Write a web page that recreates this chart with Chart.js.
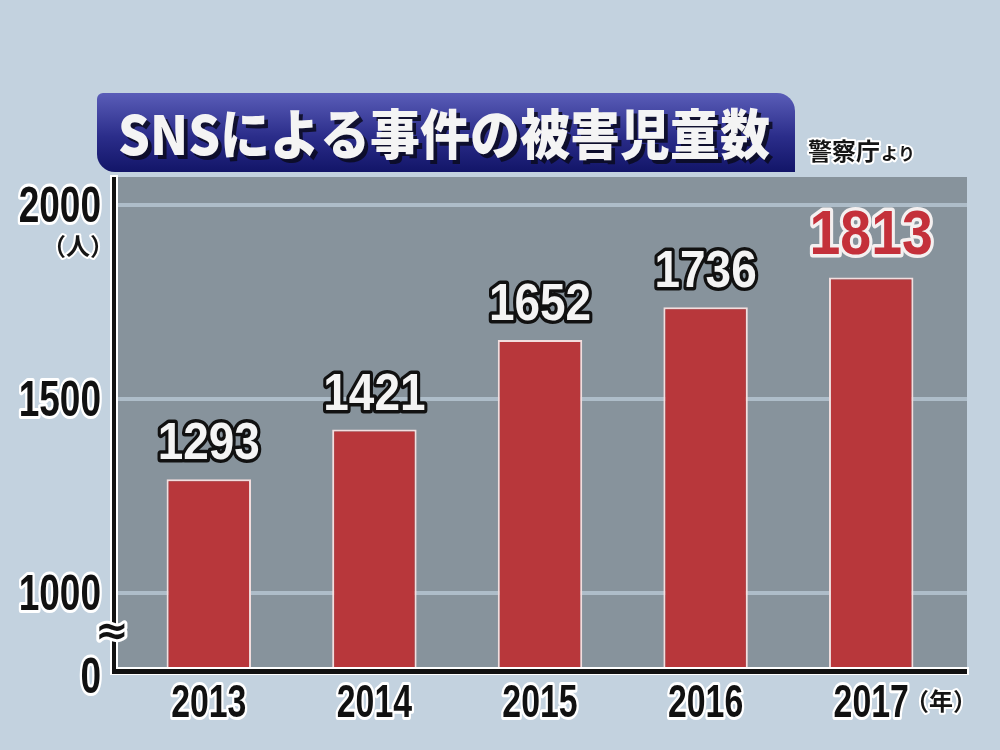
<!DOCTYPE html>
<html>
<head>
<meta charset="utf-8">
<script src="https://cdn.jsdelivr.net/npm/chart.js@4.4.1/dist/chart.umd.min.js"></script>
<style>
  html, body { margin: 0; padding: 0; background: #c3d2df; }
  canvas { display: block; }
</style>
</head>
<body>
<canvas id="chart" width="1000" height="750"></canvas>
<script>
// データ
const years = ['2013', '2014', '2015', '2016', '2017'];
const victims = [1293, 1421, 1652, 1736, 1813];
const yTicks = [1000, 1500, 2000];
const yBreakLabel = '0';
const titleText = 'SNSによる事件の被害児童数';
const sourceMain = '警察庁';
const sourceSub = 'より';
const yUnit = '（人）';
const xUnit = '（年）';

const NUM_FONT = '"Liberation Sans", Arial, sans-serif';
const JP_FONT = '"Noto Sans CJK JP", sans-serif';

const Y_MIN = 809, Y_MAX = 2072;

// 縁取り付きの縦長文字を描く
function outlined(ctx, txt, x, y, size, sx, align, fill, stroke, lw) {
    ctx.save();
    ctx.font = 'bold ' + size + 'px ' + NUM_FONT;
    ctx.textAlign = align;
    ctx.textBaseline = 'alphabetic';
    ctx.lineJoin = 'round';
    ctx.translate(x, y);
    ctx.scale(sx, 1);
    ctx.lineWidth = lw;
    ctx.strokeStyle = stroke;
    ctx.strokeText(txt, 0, 0);
    ctx.fillStyle = fill;
    ctx.fillText(txt, 0, 0);
    ctx.restore();
}

const decor = {
    id: 'decor',
    beforeDraw(chart) {
        const ctx = chart.ctx;
        const a = chart.chartArea;
        const y = chart.scales.y;
        ctx.save();
        ctx.fillStyle = '#c3d2df';
        ctx.fillRect(0, 0, chart.width, chart.height);
        // グレーのパネル
        ctx.fillStyle = '#87939c';
        ctx.fillRect(117, a.top, 967 - 117, a.bottom - a.top);
        // 目盛り線
        ctx.fillStyle = '#aebdc9';
        yTicks.forEach(v => {
            const py = Math.round(y.getPixelForValue(v));
            ctx.fillRect(117, py - 2, 967 - 117, 4);
        });

        // タイトルバナー
        const bx = 97, by = 93, bw = 795 - 97, bh = 172 - 93;
        const g = ctx.createLinearGradient(0, by, 0, by + bh);
        g.addColorStop(0, '#5a5db8');
        g.addColorStop(0.55, '#2b2d8a');
        g.addColorStop(1, '#121568');
        ctx.fillStyle = g;
        ctx.beginPath();
        ctx.roundRect(bx, by, bw, bh, [6, 18, 0, 18]);
        ctx.fill();

        ctx.font = '900 54px ' + JP_FONT;
        ctx.textBaseline = 'middle';
        ctx.textAlign = 'left';
        const tw = ctx.measureText(titleText).width;
        ctx.save();
        ctx.translate(118, 134);
        ctx.scale(652 / tw, 1);
        ctx.fillStyle = 'rgba(10,10,30,0.85)';
        ctx.fillText(titleText, 4, 4);
        ctx.fillStyle = '#f4f4f4';
        ctx.fillText(titleText, 0, 0);
        ctx.restore();

        // 出典
        ctx.lineJoin = 'round';
        ctx.textBaseline = 'alphabetic';
        ctx.font = '700 24px ' + JP_FONT;
        ctx.lineWidth = 4;
        ctx.strokeStyle = '#ffffff';
        ctx.fillStyle = '#151515';
        ctx.strokeText(sourceMain, 808, 160);
        ctx.fillText(sourceMain, 808, 160);
        const mw = ctx.measureText(sourceMain).width;
        ctx.font = '700 17px ' + JP_FONT;
        ctx.strokeText(sourceSub, 808 + mw + 1, 160);
        ctx.fillText(sourceSub, 808 + mw + 1, 160);

        // 単位
        ctx.font = '700 24px ' + JP_FONT;
        ctx.textAlign = 'center';
        ctx.textBaseline = 'middle';
        ctx.strokeText(yUnit, 78, 246);
        ctx.fillText(yUnit, 78, 246);
        ctx.strokeText(xUnit, 941, 701);
        ctx.fillText(xUnit, 941, 701);
        ctx.restore();

        // 目盛りラベル(縦軸)
        y.ticks.forEach(t => {
            const py = y.getPixelForValue(t.value);
            const label = t.value === Y_MIN ? yBreakLabel : String(t.value);
            const dy = t.value === Y_MIN ? 9 + 17 : 17;
            outlined(ctx, label, 101, py + dy, 50, 0.74, 'right', '#111111', '#ffffff', 6);
        });
        // 目盛りラベル(横軸)
        const x = chart.scales.x;
        years.forEach((yr, i) => {
            outlined(ctx, yr, x.getPixelForValue(i), 717, 47, 0.72, 'center', '#111111', '#ffffff', 6);
        });
    },
    afterDatasetsDraw(chart) {
        const ctx = chart.ctx;
        const a = chart.chartArea;
        ctx.save();
        // 軸線
        ctx.fillStyle = '#ffffff';
        ctx.fillRect(110, a.top - 2, 8, a.bottom - a.top + 10);
        ctx.fillRect(110, a.bottom, 859, 8);
        ctx.fillStyle = '#111111';
        ctx.fillRect(112, a.top, 4, a.bottom - a.top + 7);
        ctx.fillRect(112, a.bottom + 2, 855, 5);

        // 省略記号
        ctx.font = 'bold 40px "DejaVu Sans", sans-serif';
        ctx.textAlign = 'center';
        ctx.textBaseline = 'middle';
        ctx.lineJoin = 'round';
        ctx.lineWidth = 6;
        ctx.strokeStyle = '#ffffff';
        ctx.fillStyle = '#111111';
        ctx.strokeText('≈', 112, 634);
        ctx.fillText('≈', 112, 634);
        ctx.restore();

        // 数値ラベル
        const meta = chart.getDatasetMeta(0);
        meta.data.forEach((bar, i) => {
            const txt = String(victims[i]);
            if (i === victims.length - 1) {
                outlined(ctx, txt, bar.x, bar.y - 23, 63, 0.88, 'center', '#c4303a', '#f4f0f0', 7);
            } else {
                outlined(ctx, txt, bar.x, bar.y - 20, 51, 0.9, 'center', '#f4f4f4', '#111111', 7);
            }
        });
    }
};

const ctx = document.getElementById('chart').getContext('2d');
new Chart(ctx, {
    type: 'bar',
    data: {
        labels: years,
        datasets: [{
            data: victims,
            backgroundColor: '#b8373b',
            borderColor: '#f2dede',
            borderWidth: { top: 2, left: 2, right: 2, bottom: 0 },
            borderSkipped: false,
            barPercentage: 0.51,
            categoryPercentage: 1.0
        }]
    },
    options: {
        responsive: false,
        animation: false,
        devicePixelRatio: 1,
        layout: { padding: { top: 177, right: 46, left: 0, bottom: 0 } },
        plugins: { legend: { display: false }, tooltip: { enabled: false } },
        scales: {
            x: {
                grid: { display: false, drawTicks: false },
                border: { display: false },
                ticks: { display: false },
                afterFit(scale) { scale.height = 83; }
            },
            y: {
                min: Y_MIN,
                max: Y_MAX,
                grid: { display: false, drawTicks: false },
                border: { display: false },
                ticks: { display: false },
                afterBuildTicks(scale) {
                    scale.ticks = [Y_MIN].concat(yTicks).map(v => ({ value: v }));
                },
                afterFit(scale) { scale.width = 126; }
            }
        }
    },
    plugins: [decor]
});
</script>
</body>
</html>
